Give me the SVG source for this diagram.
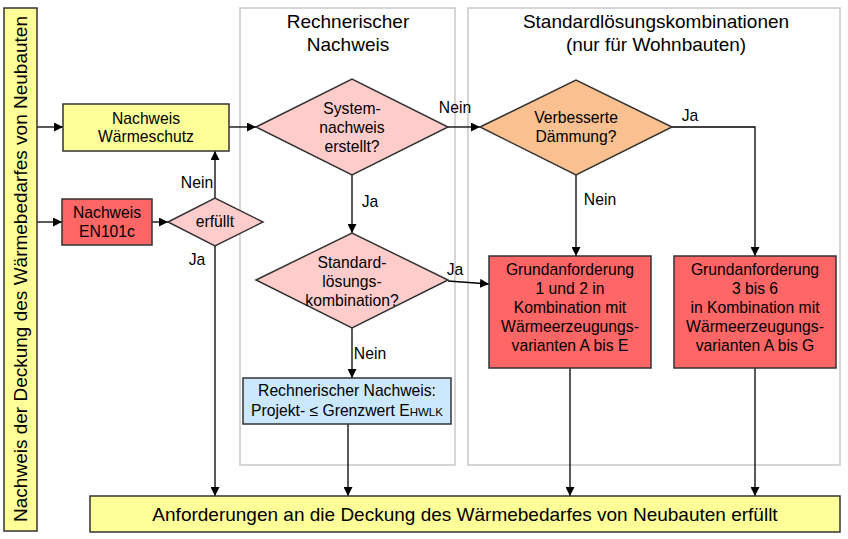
<svg xmlns="http://www.w3.org/2000/svg" width="848" height="539" viewBox="0 0 848 539">
<style>
text{font-family:"Liberation Sans",Arial,sans-serif;font-size:15.7px;fill:#000;text-anchor:middle}
.t{font-size:19px}
.n{stroke:#333;stroke-width:1.5}
.c{stroke:#000;stroke-width:1.3;fill:none;marker-end:url(#a)}
.p{fill:#fff;stroke:#c8c8c8;stroke-width:1.5}
</style>
<defs><marker id="a" viewBox="0 0 10 10" refX="10" refY="5" markerWidth="9" markerHeight="9" markerUnits="userSpaceOnUse" orient="auto"><path d="M0,0L10,5L0,10z" fill="#000"/></marker></defs>
<rect width="848" height="539" fill="#fff"/>
<g id="panel1"><rect class="p" x="240" y="8" width="215" height="457"/><text class="t" x="348" y="28">Rechnerischer</text><text class="t" x="348" y="51">Nachweis</text></g>
<g id="panel2"><rect class="p" x="468" y="8" width="372" height="457"/><text class="t" x="656" y="28">Standardlösungskombinationen</text><text class="t" x="656" y="51">(nur für Wohnbauten)</text></g>
<g id="connectors">
<path class="c" d="M37,127H63"/>
<path class="c" d="M37,222H62"/>
<path class="c" d="M152,222H168"/>
<path class="c" d="M215,198V151"/>
<path class="c" d="M215,246V496"/>
<path class="c" d="M229,127H256"/>
<path class="c" d="M448,127H480"/>
<path class="c" d="M352,175V233"/>
<path class="c" d="M448,281L489,284"/>
<path class="c" d="M352,328V378"/>
<path class="c" d="M348,424V496"/>
<path class="c" d="M576,175V256"/>
<path class="c" d="M672,127H755V256"/>
<path class="c" d="M570,368V496"/>
<path class="c" d="M755,368V496"/>
<text x="197" y="188">Nein</text><text x="197" y="265">Ja</text>
<text x="455" y="113">Nein</text><text x="370" y="207">Ja</text>
<text x="455" y="275">Ja</text><text x="370" y="359">Nein</text>
<text x="600" y="205">Nein</text><text x="690" y="121">Ja</text>
</g>
<g id="side"><rect class="n" x="4" y="8" width="33" height="523" fill="#ffff99"/><text transform="translate(27,269) rotate(-90)" class="t">Nachweis der Deckung des Wärmebedarfes von Neubauten</text></g>
<g id="waermeschutz"><rect class="n" x="63" y="104" width="166" height="47" fill="#ffff99"/><text x="146" y="124">Nachweis</text><text x="146" y="142">Wärmeschutz</text></g>
<g id="en101c"><rect class="n" x="62" y="199" width="90" height="46" fill="#ff6666"/><text x="107" y="218">Nachweis</text><text x="107" y="237">EN101c</text></g>
<g id="erfuellt"><path class="n" d="M168,222L215,198L263,222L215,246z" fill="#ffcccc"/><text x="215" y="227">erfüllt</text></g>
<g id="system"><path class="n" d="M256,127L352,79L448,127L352,175z" fill="#ffcccc"/><text x="352" y="114">System-</text><text x="352" y="133">nachweis</text><text x="352" y="152">erstellt?</text></g>
<g id="standard"><path class="n" d="M256,280L352,233L448,280L352,328z" fill="#ffcccc"/><text x="352" y="268">Standard-</text><text x="352" y="287">lösungs-</text><text x="352" y="306">kombination?</text></g>
<g id="daemmung"><path class="n" d="M480,127L576,80L672,127L576,175z" fill="#fac090"/><text x="576" y="123">Verbesserte</text><text x="576" y="142">Dämmung?</text></g>
<g id="grund1"><rect class="n" x="489" y="256" width="162" height="112" fill="#ff6666"/><text x="570" y="275">Grundanforderung</text><text x="570" y="294">1 und 2 in</text><text x="570" y="313">Kombination mit</text><text x="570" y="332">Wärmeerzeugungs-</text><text x="570" y="351">varianten A bis E</text></g>
<g id="grund2"><rect class="n" x="674" y="256" width="162" height="112" fill="#ff6666"/><text x="755" y="275">Grundanforderung</text><text x="755" y="294">3 bis 6</text><text x="755" y="313">in Kombination mit</text><text x="755" y="332">Wärmeerzeugungs-</text><text x="755" y="351">varianten A bis G</text></g>
<g id="rechnerisch"><rect class="n" x="243" y="378" width="208" height="46" fill="#cce8ff"/><text x="347" y="396">Rechnerischer Nachweis:</text><text x="347" y="416">Projekt- ≤ Grenzwert E<tspan font-size="11.5">HWLK</tspan></text></g>
<g id="ergebnis"><rect class="n" x="90" y="496" width="750" height="36" fill="#ffff99"/><text class="t" x="465" y="521">Anforderungen an die Deckung des Wärmebedarfes von Neubauten erfüllt</text></g>
</svg>
